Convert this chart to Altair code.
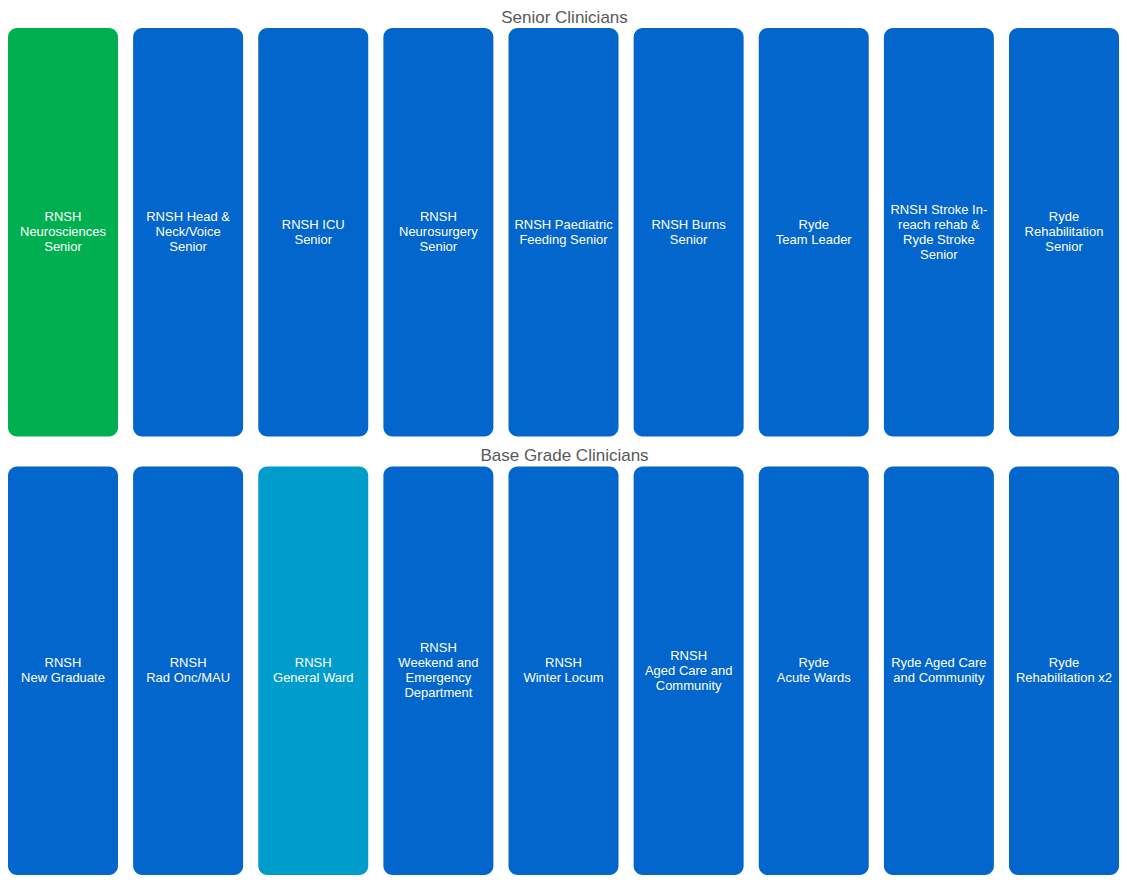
import altair as alt
import pandas as pd

rows = ["Senior Clinicians", "Base Grade Clinicians"]

senior_labels = [
    "RNSH\nNeurosciences\nSenior",
    "RNSH Head &\nNeck/Voice\nSenior",
    "RNSH ICU\nSenior",
    "RNSH\nNeurosurgery\nSenior",
    "RNSH Paediatric\nFeeding Senior",
    "RNSH Burns\nSenior",
    "Ryde\nTeam Leader",
    "RNSH Stroke In-\nreach rehab  &\nRyde Stroke\nSenior",
    "Ryde\nRehabilitation\nSenior",
]
senior_status = ["green", "blue", "blue", "blue", "blue", "blue", "blue", "blue", "blue"]

base_labels = [
    "RNSH\nNew Graduate",
    "RNSH\nRad Onc/MAU",
    "RNSH\nGeneral Ward",
    "RNSH\nWeekend and\nEmergency\nDepartment",
    "RNSH\nWinter Locum",
    "RNSH\nAged Care and\nCommunity",
    "Ryde\nAcute Wards",
    "Ryde Aged Care\nand Community",
    "Ryde\nRehabilitation x2",
]
base_status = ["blue", "blue", "teal", "blue", "blue", "blue", "blue", "blue", "blue"]

records = []
for r, (labels, status) in enumerate([(senior_labels, senior_status), (base_labels, base_status)]):
    for c, (lab, st) in enumerate(zip(labels, status)):
        records.append({"row": rows[r], "col": c, "label": lab, "status": st})
df = pd.DataFrame(records)
titles = pd.DataFrame({"row": rows})

W, H = 1111, 867
LINE_H = 15
Y0, Y1, PI_Y = 20, 867, 0.068
HALF_BAND = (Y1 - Y0) / (2 - PI_Y) * (1 - PI_Y) / 2

xs = alt.Scale(domain=list(range(9)), range=[0, W], paddingInner=0.121, paddingOuter=0)
ys = alt.Scale(domain=rows, range=[Y0, Y1], paddingInner=PI_Y, paddingOuter=0)

boxes = alt.Chart(df).mark_rect(cornerRadius=9).encode(
    x=alt.X("col:O", scale=xs, axis=None),
    y=alt.Y("row:N", scale=ys, axis=None, sort=rows),
    color=alt.Color(
        "status:N",
        scale=alt.Scale(domain=["green", "blue", "teal"], range=["#00B050", "#0366CC", "#009CCC"]),
        legend=None,
    ),
)

labels = alt.Chart(df).transform_calculate(
    lines="split(datum.label, '\\n')"
).transform_flatten(
    ["lines"], as_=["line"]
).transform_window(
    idx="row_number()", groupby=["row", "col"]
).transform_joinaggregate(
    n="count()", groupby=["row", "col"]
).transform_calculate(
    off=f"{HALF_BAND} + (datum.idx - 1 - (datum.n - 1) / 2) * {LINE_H}"
).mark_text(
    font="Liberation Sans", fontSize=13, color="white",
    align="center", baseline="middle",
).encode(
    x=alt.X("col:O", scale=xs, axis=None),
    y=alt.Y("row:N", scale=ys, axis=None, sort=rows),
    yOffset=alt.YOffset("off:Q", scale=None),
    text="line:N",
)

heads = alt.Chart(titles).mark_text(
    font="Liberation Sans", fontSize=17, color="#595959", align="center", baseline="middle", dy=-10,
).encode(
    x=alt.value(W / 2 + 1),
    y=alt.Y("row:N", scale=ys, axis=None, sort=rows, bandPosition=0),
    text="row:N",
)

chart = alt.layer(boxes, labels, heads).properties(
    width=W, height=H, padding=0, autosize=alt.AutoSizeParams(type="none")
).configure_view(stroke=None)

chart.save("out.html", embed_options={"renderer": "svg", "actions": False})
